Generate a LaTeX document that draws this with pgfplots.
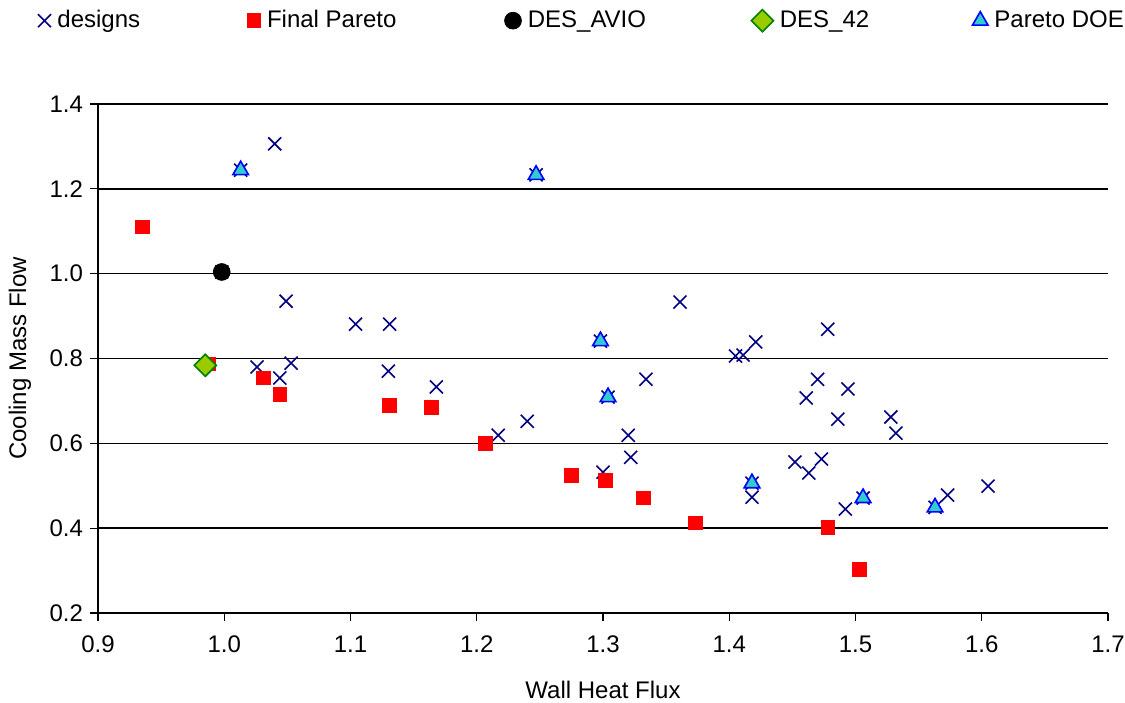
\documentclass[border=0pt]{standalone}
\usepackage{fontspec}
\setmainfont{Liberation Sans}
\usepackage{pgfplots}
\pgfplotsset{compat=1.18}
\definecolor{navyx}{RGB}{0,0,128}
\definecolor{redsq}{RGB}{255,0,0}
\definecolor{diafill}{RGB}{153,204,0}
\definecolor{diadraw}{RGB}{0,128,0}
\definecolor{trifill}{RGB}{51,204,204}
\definecolor{tridraw}{RGB}{0,0,255}
\begin{document}
\begin{tikzpicture}
\useasboundingbox (0,0) rectangle (562.5pt,351pt);
\begin{axis}[
  at={(49pt,44.5pt)}, anchor=south west,
  scale only axis, width=505pt, height=254.5pt,
  xmin=0.9, xmax=1.7, ymin=0.2, ymax=1.4,
  xtick={0.9,1.0,1.1,1.2,1.3,1.4,1.5,1.6,1.7},
  ytick={0.2,0.4,0.6,0.8,1.0,1.2,1.4},
  axis x line*=bottom, axis y line*=left,
  axis line style={black, line width=0.6pt, -},
  tick align=outside, major tick length=4pt,
  tick style={black, line width=0.6pt},
  ymajorgrids, major grid style={black, line width=0.8pt},
  /pgf/number format/assume math mode=true,
  tick label style={font=\fontsize{12}{14}\selectfont},
  xticklabel style={yshift=-4pt,/pgf/number format/.cd,fixed,fixed zerofill,precision=1},
  yticklabel style={/pgf/number format/.cd,fixed,fixed zerofill,precision=1},
  xlabel={Wall Heat Flux}, ylabel={Cooling Mass Flow},
  label style={font=\fontsize{12}{14}\selectfont},
  x label style={at={(axis description cs:0.5,-0.151)},anchor=center},
  y label style={at={(axis description cs:-0.0772,0.5)},anchor=center},
  legend columns=5,
  legend style={at={(-0.0594,1.1637)}, anchor=west, draw=none, fill=none,
    inner sep=0pt, outer sep=0pt, font=\fontsize{12}{14}\selectfont},
  legend cell align=left,
  legend image code/.code={\draw[#1,only marks] plot coordinates {(0pt,0pt)};},
]
% designs
\addplot[only marks, mark=x, mark size=4.6pt, navyx, line width=0.8pt] coordinates {
(1.040,1.306) (1.049,0.935) (1.104,0.881) (1.131,0.881) (1.026,0.780)
(1.053,0.789) (1.044,0.754) (1.130,0.770) (1.168,0.733) (1.361,0.933)
(1.421,0.839) (1.405,0.806) (1.411,0.808) (1.478,0.869) (1.334,0.751)
(1.470,0.751) (1.461,0.707) (1.494,0.728) (1.486,0.657) (1.528,0.662)
(1.532,0.624) (1.452,0.556) (1.473,0.563) (1.463,0.530) (1.418,0.473)
(1.492,0.445) (1.573,0.478) (1.605,0.499) (1.217,0.619) (1.240,0.652)
(1.320,0.619) (1.322,0.567) (1.300,0.532)
(0.935,1.110) (0.988,0.787) (1.031,0.754) (1.044,0.716) (1.131,0.690)
(1.164,0.685) (1.207,0.600) (1.275,0.525) (1.302,0.513) (1.332,0.471)
(1.373,0.412) (1.478,0.402) (1.503,0.303)
(0.998,1.004)
(1.013,1.244) (1.247,1.233) (1.298,0.841) (1.304,0.709) (1.418,0.506)
(1.506,0.471) (1.563,0.449)
};
\addlegendentry{\makebox[94pt][l]{\hspace{1.2pt}designs}}
% Final Pareto
\addplot[only marks, mark=square*, mark size=3.4pt, draw=redsq, fill=redsq] coordinates {
(0.935,1.110) (0.988,0.787) (1.031,0.754) (1.044,0.716) (1.131,0.690)
(1.164,0.685) (1.207,0.600) (1.275,0.525) (1.302,0.513) (1.332,0.471)
(1.373,0.412) (1.478,0.402) (1.503,0.303)
};
\addlegendentry{\makebox[118pt][l]{\hspace{1.2pt}Final Pareto}}
% DES_AVIO
\addplot[only marks, mark=*, mark size=4.2pt, draw=black, fill=black] coordinates {
(0.998,1.004)
};
\addlegendentry{\makebox[111pt][l]{\hspace{1.2pt}DES\_AVIO}}
% DES_42
\addplot[only marks, mark=square*, mark size=3.9pt, mark options={rotate=45, draw=diadraw, fill=diafill, line width=0.8pt}] coordinates {
(0.985,0.784)
};
\addlegendentry{\makebox[95.5pt][l]{\hspace{1.2pt}DES\_42}}
% Pareto DOE
\addplot[only marks, mark=triangle*, mark size=4.5pt, mark options={draw=tridraw, fill=trifill, line width=0.8pt}] coordinates {
(1.013,1.244) (1.247,1.233) (1.298,0.841) (1.304,0.709) (1.418,0.506)
(1.506,0.471) (1.563,0.449)
};
\addlegendentry{\hspace{1.2pt}Pareto DOE}
\end{axis}
\end{tikzpicture}
\end{document}
